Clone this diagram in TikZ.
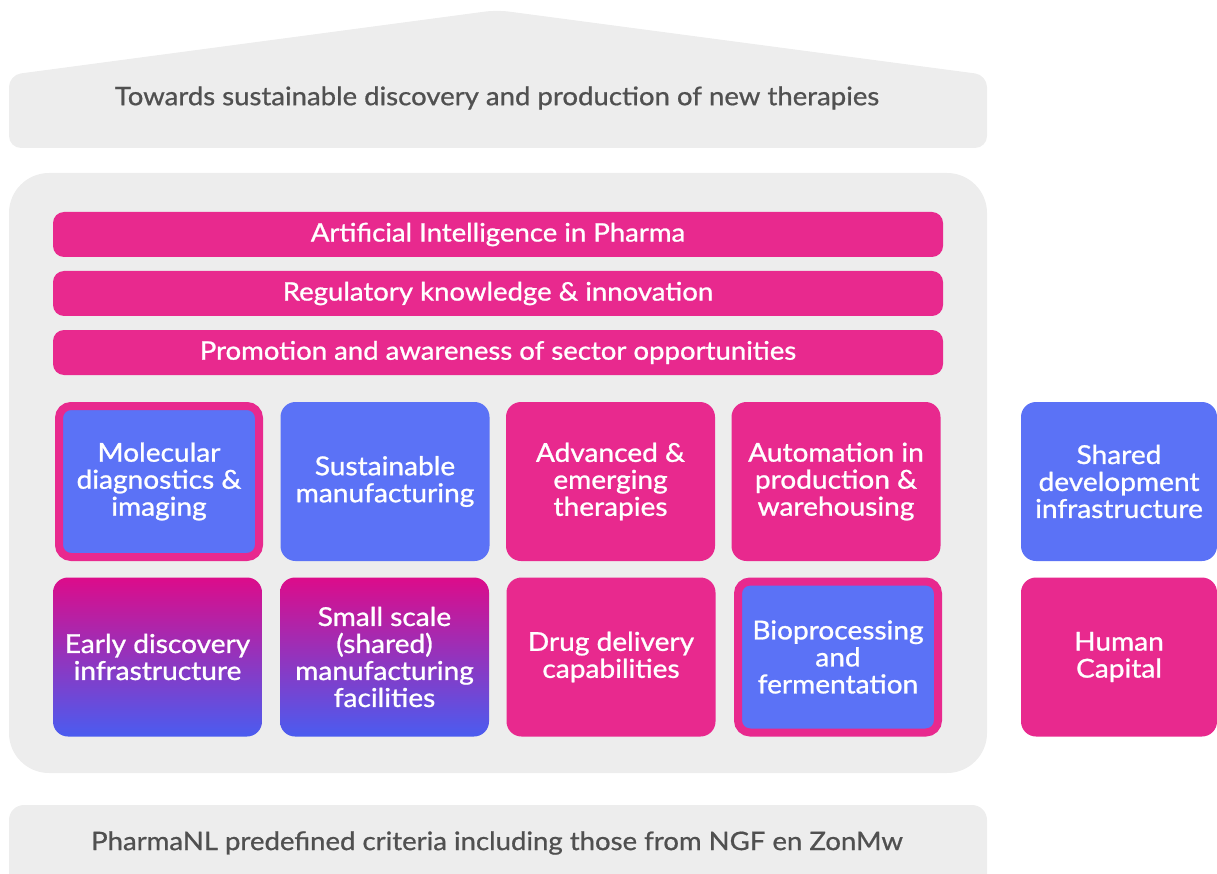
\documentclass[tikz,border=0pt]{standalone}
\usepackage{fontspec}
\setmainfont{Lato}
\newfontfamily\wfont[FakeBold=1,FakeStretch=1.08]{Lato}
\newfontfamily\gfont[FakeBold=0.8,FakeStretch=1.08]{Lato}
\definecolor{pk}{HTML}{E8298E}
\definecolor{bl}{HTML}{5B72F6}
\definecolor{gr}{HTML}{EDEDED}
\definecolor{tx}{HTML}{505050}
\definecolor{gtop}{HTML}{DC0C8A}
\definecolor{gbot}{HTML}{4A5CF0}
\begin{document}
\begin{tikzpicture}[x=1pt,y=-1pt,
  panel/.style={fill=gr, inner sep=0pt},
  graytext/.style={text=tx, font=\gfont\fontsize{25.5}{27}\selectfont, inner sep=0pt},
  bar/.style={fill=pk, rounded corners=11pt, minimum width=890pt, minimum height=45pt, inner sep=0pt, text=white, font=\wfont\fontsize{25.5}{27}\selectfont},
  tile/.style={rounded corners=15pt, minimum width=209pt, minimum height=159pt, inner sep=0pt, text=white, align=center, font=\wfont\fontsize{26}{27}\selectfont},
  pinktile/.style={tile, fill=pk},
  bluetile/.style={tile, fill=bl},
  gradtile/.style={tile, top color=gtop, bottom color=gbot},
  bordertile/.style={tile, fill=bl, draw=pk, line width=8pt, rounded corners=12pt, minimum width=200pt, minimum height=151pt}
]
\clip (0,0) rectangle (1217,874);
% roof
\fill[gr, rounded corners=12pt] (9,148) -- (9,75) -- (497,10) -- (987,75) -- (987,148) -- cycle;
\node[graytext] (roof) at (497,98) {Towards sustainable discovery and production of new therapies};
% main panel
\node[panel, rounded corners=40pt, minimum width=978pt, minimum height=600pt] (house) at (498,473) {};
% bars
\node[bar] (ai) at (498,234.5) {Artificial Intelligence in Pharma};
\node[bar] (reg) at (498,293.5) {Regulatory knowledge \& innovation};
\node[bar] (promo) at (498,352.5) {Promotion and awareness of sector opportunities};
% row 1
\node[bordertile] (mol) at (159,481.5) {Molecular\\diagnostics \&\\imaging};
\node[bluetile] (sus) at (385,481.5) {Sustainable\\manufacturing};
\node[pinktile] (adv) at (610.5,481.5) {Advanced \&\\emerging\\therapies};
\node[pinktile] (aut) at (836,481.5) {Automation in\\production \&\\warehousing};
\node[bluetile, minimum width=196pt] (shared) at (1119,481.5) {Shared\\development\\infrastructure};
% row 2
\node[gradtile] (early) at (157.5,657) {Early discovery\\infrastructure};
\node[gradtile] (small) at (384.5,657) {Small scale\\(shared)\\manufacturing\\facilities};
\node[pinktile] (drug) at (611,657) {Drug delivery\\capabilities};
\node[bordertile] (bio) at (838,657) {Bioprocessing\\and\\fermentation};
\node[pinktile, minimum width=196pt] (human) at (1119,657) {Human\\Capital};
% base
\node[panel, rounded corners=15pt, minimum width=978pt, minimum height=100pt] (base) at (498,855) {};
\node[graytext] (crit) at (497,843) {PharmaNL predefined criteria including those from NGF en ZonMw};
\end{tikzpicture}
\end{document}
